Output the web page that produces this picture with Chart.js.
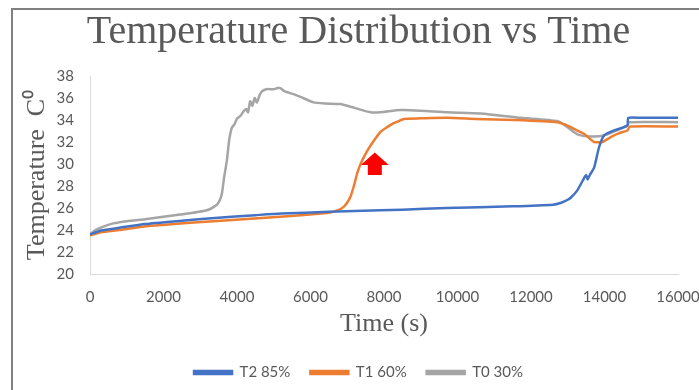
<!DOCTYPE html>
<html>
<head>
<meta charset="utf-8">
<script src="https://cdn.jsdelivr.net/npm/chart.js@4.4.1/dist/chart.umd.min.js"></script>
<style>
  body { margin: 0; background: #fff; }
  #wrap { position: relative; width: 699px; height: 390px; overflow: hidden; }
  #frame { position: absolute; left: 11px; top: 8px; width: 720px; height: 400px;
           border-top: 2px solid #808080; border-left: 2px solid #808080; }
  canvas { position: absolute; left: 0; top: 0; }
</style>
</head>
<body>
<div id="wrap">
  <canvas id="temp-chart" width="699" height="390"></canvas>
  <div id="frame"></div>
</div>
<script>
// values
const timeT2 = [0, 300, 800, 1500, 2500, 3400, 4500, 5200, 6500, 7900, 8500, 9700, 11500, 12600, 12800, 13000, 13100, 13260, 13440, 13500, 13540, 13600, 13720, 13850, 13990, 14260, 14620, 14650, 15000, 16000];
const tempT2 = [23.6, 23.95, 24.2, 24.55, 24.85, 25.1, 25.35, 25.5, 25.65, 25.8, 25.85, 26.0, 26.15, 26.3, 26.45, 26.75, 27.0, 27.6, 28.7, 29.0, 28.6, 29.0, 29.7, 31.5, 32.6, 33.05, 33.5, 34.2, 34.2, 34.2];

const timeT1 = [0, 300, 800, 1545, 3360, 5177, 6300, 6540, 6750, 6903, 7000, 7084, 7180, 7266, 7350, 7448, 7580, 7720, 7900, 8084, 8250, 8401, 8537, 9000, 9719, 10500, 11535, 12716, 12950, 13170, 13442, 13600, 13715, 13942, 14169, 14400, 14623, 14690, 16000];
const tempT1 = [23.5, 23.8, 24.0, 24.35, 24.8, 25.2, 25.5, 25.6, 25.8, 26.1, 26.5, 27.0, 28.0, 29.1, 29.9, 30.6, 31.4, 32.1, 32.9, 33.35, 33.7, 33.9, 34.1, 34.15, 34.2, 34.1, 34.0, 33.8, 33.55, 33.2, 32.75, 32.3, 32.0, 32.0, 32.45, 32.8, 33.05, 33.4, 33.4];

const timeT0 = [0, 150, 400, 635, 1000, 1545, 2452, 3180, 3452, 3530, 3588, 3650, 3700, 3724, 3780, 3820, 3860, 3930, 3997, 4100, 4180, 4250, 4300, 4360, 4420, 4480, 4541, 4620, 4678, 4800, 5000, 5100, 5177, 5300, 5540, 5800, 6085, 6400, 6812, 7200, 7630, 7902, 8447, 9000, 9719, 10627, 11717, 12716, 12989, 13261, 13624, 13987, 14441, 14623, 14668, 16000];
const tempT0 = [23.6, 24.0, 24.35, 24.6, 24.8, 25.0, 25.4, 25.8, 26.3, 26.7, 27.3, 28.8, 29.8, 30.3, 32.0, 32.8, 33.3, 33.6, 34.1, 34.4, 34.8, 35.0, 34.7, 35.7, 35.3, 36.0, 35.6, 36.3, 36.6, 36.8, 36.8, 36.9, 36.9, 36.6, 36.35, 36.0, 35.6, 35.5, 35.45, 35.1, 34.7, 34.7, 34.9, 34.85, 34.7, 34.6, 34.2, 33.9, 33.35, 32.7, 32.5, 32.6, 33.2, 33.5, 33.8, 33.8];

const seriesNames = ["T2 85%", "T1 60%", "T0 30%"];
const xTicks = { min: 0, max: 16000, step: 2000 };
const yTicks = { min: 20, max: 38, step: 2 };

// red arrow marker (time, temp of tip / head base / tail)
const arrowAt = { time: 7750, tip: 31.05, head: 29.9, tail: 29.0 };

function toPoints(xs, ys) {
  return xs.map((x, i) => ({ x: x, y: ys[i] }));
}

const arrowPlugin = {
  id: "redArrow",
  afterDatasetsDraw(chart) {
    const { ctx, scales } = chart;
    const cx = scales.x.getPixelForValue(arrowAt.time);
    const tip = scales.y.getPixelForValue(arrowAt.tip);
    const head = scales.y.getPixelForValue(arrowAt.head);
    const tail = scales.y.getPixelForValue(arrowAt.tail);
    ctx.save();
    ctx.fillStyle = "#ff0000";
    ctx.beginPath();
    ctx.moveTo(cx, tip);
    ctx.lineTo(cx + 14, head);
    ctx.lineTo(cx + 7, head);
    ctx.lineTo(cx + 7, tail);
    ctx.lineTo(cx - 7, tail);
    ctx.lineTo(cx - 7, head);
    ctx.lineTo(cx - 14, head);
    ctx.closePath();
    ctx.fill();
    ctx.restore();
  },
};

const canvasElement = document.getElementById("temp-chart");
const config = {
  type: "line",
  data: {
    datasets: [
      {
        label: seriesNames[0],
        data: toPoints(timeT2, tempT2),
        borderColor: "#4472c4",
        backgroundColor: "#4472c4",
      },
      {
        label: seriesNames[1],
        data: toPoints(timeT1, tempT1),
        borderColor: "#ed7d31",
        backgroundColor: "#ed7d31",
      },
      {
        label: seriesNames[2],
        data: toPoints(timeT0, tempT0),
        borderColor: "#a5a5a5",
        backgroundColor: "#a5a5a5",
      },
    ],
  },
  options: {
    responsive: false,
    animation: false,
    parsing: false,
    elements: {
      point: { radius: 0 },
      line: { borderWidth: 2.5, tension: 0.2 },
    },
    layout: { padding: { left: 18, right: 0, top: 0, bottom: 0 } },
    plugins: {
      tooltip: { enabled: false },
      title: {
        display: true,
        text: "Temperature Distribution vs Time",
        color: "#595959",
        font: { family: "Liberation Serif", size: 40, weight: "normal" },
        padding: { top: 8, bottom: 20 },
      },
      legend: {
        position: "bottom",
        labels: {
          color: "#595959",
          font: { family: "Lato", size: 15 },
          boxWidth: 38,
          boxHeight: 3,
          padding: 20,
        },
      },
    },
    scales: {
      x: {
        type: "linear",
        min: xTicks.min,
        max: xTicks.max,
        grid: { display: false, drawTicks: false },
        border: { display: true, color: "#d9d9d9" },
        ticks: {
          stepSize: xTicks.step,
          color: "#595959",
          font: { family: "Lato", size: 15 },
          padding: 14,
          maxRotation: 0,
          autoSkip: false,
          callback: (v) => String(v),
        },
        title: {
          display: true,
          text: "Time (s)",
          color: "#595959",
          font: { family: "Liberation Serif", size: 26 },
          padding: { top: 4, bottom: 5 },
        },
        afterFit(scale) {
          scale.height = 71;
          scale.paddingRight = 21;
        },
      },
      y: {
        min: yTicks.min,
        max: yTicks.max,
        grid: { display: false, drawTicks: false },
        border: { display: true, color: "#d9d9d9" },
        ticks: {
          stepSize: yTicks.step,
          color: "#595959",
          font: { family: "Lato", size: 15 },
          padding: 16,
          autoSkip: false,
        },
        title: {
          display: true,
          text: "Temperature  C\u2070",
          color: "#595959",
          font: { family: "Liberation Serif", size: 26 },
          padding: { top: 4, bottom: 4 },
        },
        afterFit(scale) { scale.width = 72; },
      },
    },
  },
  plugins: [arrowPlugin],
};

const tempChart = new Chart(canvasElement, config);
</script>
</body>
</html>
